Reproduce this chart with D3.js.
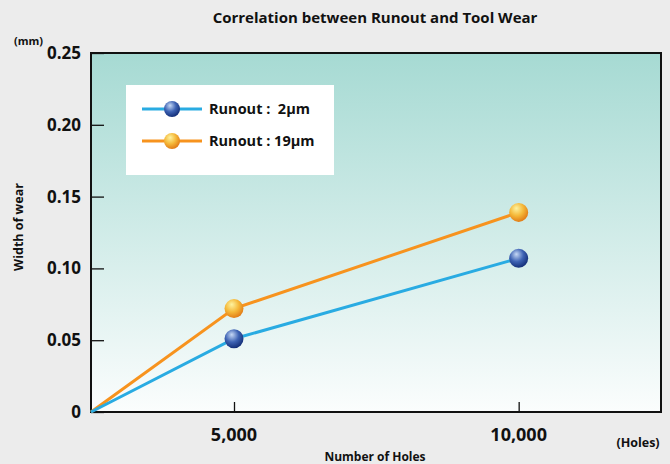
<!DOCTYPE html>
<html><head><meta charset="utf-8">
<script src="https://cdn.jsdelivr.net/npm/d3@7"></script>
<style>
html,body{margin:0;padding:0;background:#ececec;}
svg{display:block;font-family:"Open Sans","Noto Sans",sans-serif;}
</style></head>
<body>
<svg id="c" width="670" height="464"></svg>
<script>
const holes = [0, 5000, 10000];
const runout2 = [0, 0.051, 0.107];
const runout19 = [0, 0.072, 0.139];
const seriesNames = ["Runout :  2\u03bcm", "Runout : 19\u03bcm"];
const yTicks = [0, 0.05, 0.10, 0.15, 0.20, 0.25];
const xTicks = [5000, 10000];

const svg = d3.select("#c");
const L = 91, R = 661, T = 53, B = 412;

const x = d3.scaleLinear().domain([0, 5000, 12500]).range([L, 234, R]);
const y = d3.scaleLinear().domain([0, 0.25]).range([B, T]);

const defs = svg.append("defs");
const bg = defs.append("linearGradient").attr("id","bg").attr("x1",0).attr("y1",0).attr("x2",0).attr("y2",1);
bg.append("stop").attr("offset","0%").attr("stop-color","#a6dad3");
bg.append("stop").attr("offset","100%").attr("stop-color","#fbfdfd");

function ball(id, c0, c1, c2){
  const g = defs.append("radialGradient").attr("id",id).attr("cx","40%").attr("cy","35%").attr("r","65%").attr("fx","38%").attr("fy","28%");
  g.append("stop").attr("offset","0%").attr("stop-color",c0);
  g.append("stop").attr("offset","55%").attr("stop-color",c1);
  g.append("stop").attr("offset","100%").attr("stop-color",c2);
}
ball("bBlue","#c5d8f5","#3e63b4","#15307a");
ball("bOrange","#fdf3a0","#f5b93a","#e27d17");

svg.append("rect").attr("x",L).attr("y",T).attr("width",R-L).attr("height",B-T).attr("fill","url(#bg)");

// title
svg.append("text").attr("x",375).attr("y",23).attr("text-anchor","middle")
  .attr("font-size",15).attr("font-weight","bold").attr("fill","#111").text("Correlation between Runout and Tool Wear");
svg.append("text").attr("x",14).attr("y",45).attr("font-size",11).attr("font-weight","bold").attr("fill","#111").text("(mm)");

// y axis
const ya = svg.append("g").attr("transform",`translate(${L},0)`)
  .call(d3.axisRight(y).tickValues(yTicks).tickSize(13).tickFormat(""));
ya.select(".domain").remove();
ya.selectAll("line").attr("stroke","#111").attr("stroke-width",1.3);
svg.selectAll(".ylab").data(yTicks).enter().append("text")
  .attr("x",81).attr("y",d=>y(d)+6).attr("text-anchor","end")
  .attr("font-size",17).attr("font-weight","bold").attr("fill","#111")
  .text(d=>d===0?"0":d3.format(".2f")(d));

// x axis
const xa = svg.append("g").attr("transform",`translate(0,${B})`)
  .call(d3.axisTop(x).tickValues(xTicks).tickSize(10).tickFormat(""));
xa.select(".domain").remove();
xa.selectAll("line").attr("stroke","#111").attr("stroke-width",1.3);
svg.selectAll(".xlab").data(xTicks).enter().append("text")
  .attr("x",d=>x(d)).attr("y",441).attr("text-anchor","middle")
  .attr("font-size",18).attr("font-weight","bold").attr("fill","#111")
  .text(d=>d3.format(",")(d));

svg.append("text").attr("x",638).attr("y",447).attr("text-anchor","middle")
  .attr("font-size",12.5).attr("font-weight","bold").attr("fill","#111").text("(Holes)");
svg.append("text").attr("x",375).attr("y",461).attr("text-anchor","middle")
  .attr("font-size",12).attr("font-weight","bold").attr("fill","#111").text("Number of Holes");
svg.append("text").attr("transform","translate(23,227) rotate(-90)").attr("text-anchor","middle")
  .attr("font-size",12.5).attr("font-weight","bold").attr("fill","#111").text("Width of wear");

// border
svg.append("rect").attr("x",L).attr("y",T).attr("width",R-L).attr("height",B-T)
  .attr("fill","none").attr("stroke","#111").attr("stroke-width",2);

const series = [
  {vals: runout2, color:"#29abe2", grad:"url(#bBlue)"},
  {vals: runout19, color:"#f7931e", grad:"url(#bOrange)"}
];
const line = d3.line().x((d,i)=>x(holes[i])).y(d=>y(d));
[series[1], series[0]].forEach(s=>{
  svg.append("path").attr("d",line(s.vals)).attr("fill","none").attr("stroke",s.color).attr("stroke-width",3);
});
series.forEach(s=>{
  svg.selectAll(null).data(s.vals.slice(1)).enter().append("circle")
    .attr("cx",(d,i)=>x(holes[i+1])).attr("cy",d=>y(d)).attr("r",9.5).attr("fill",s.grad);
});

// legend
svg.append("rect").attr("x",126).attr("y",85).attr("width",208).attr("height",90).attr("fill","#fff");
series.forEach((s,i)=>{
  const ly = 109 + i*32;
  svg.append("line").attr("x1",142).attr("x2",202).attr("y1",ly).attr("y2",ly).attr("stroke",s.color).attr("stroke-width",3);
  svg.append("circle").attr("cx",172).attr("cy",ly).attr("r",8).attr("fill",s.grad);
  svg.append("text").attr("x",209).attr("y",ly+5).attr("font-size",14.5).attr("font-weight","bold")
    .attr("fill","#111").style("white-space","pre").text(seriesNames[i]);
});
</script>
</body></html>
